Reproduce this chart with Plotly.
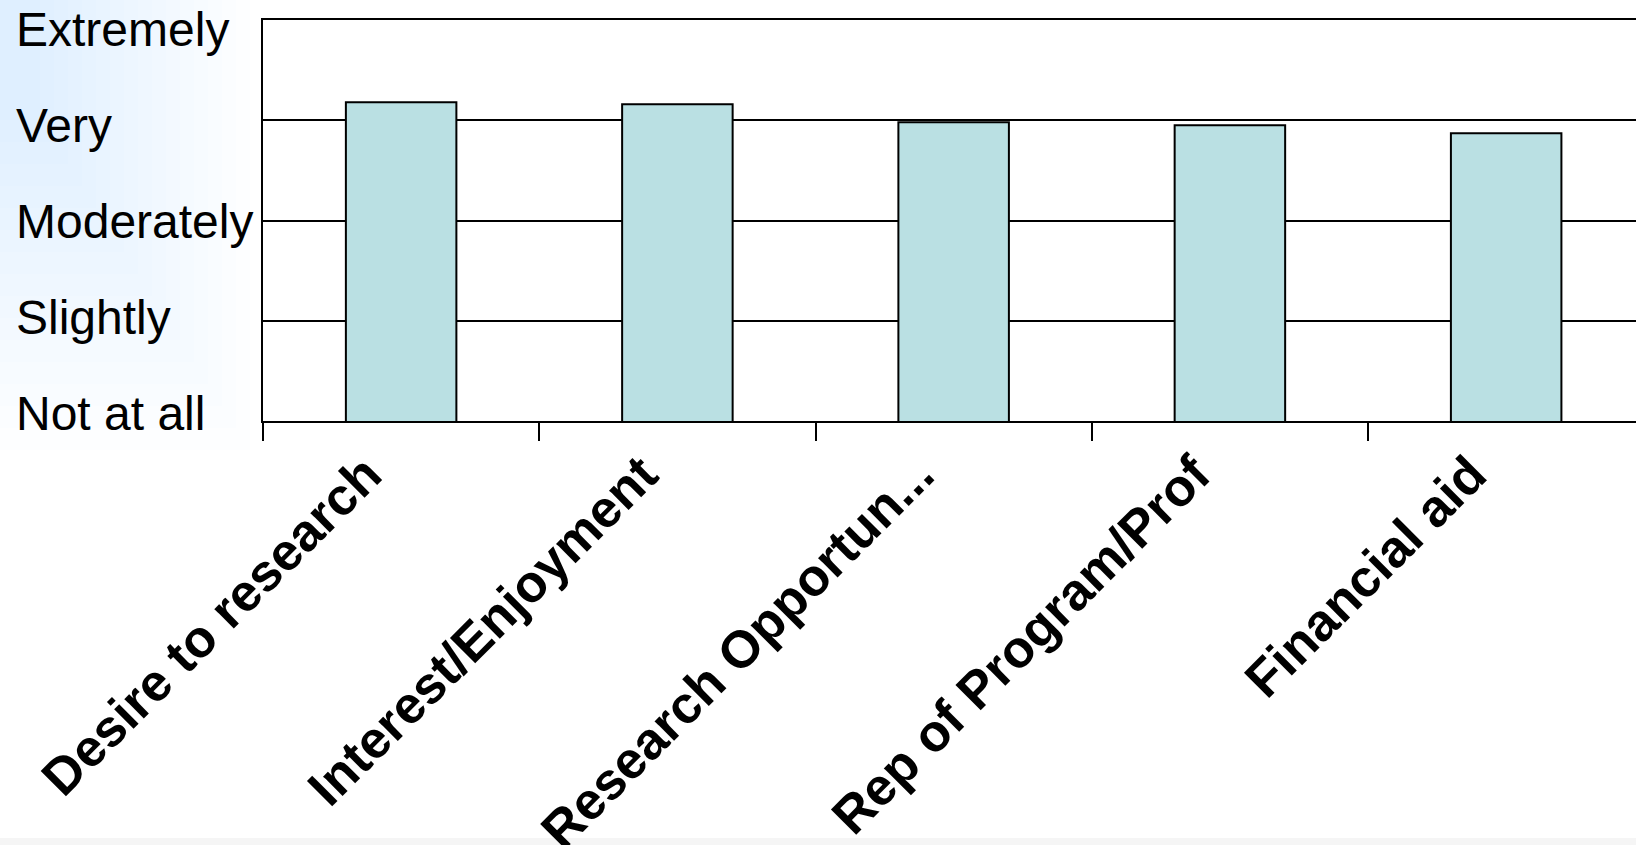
import plotly.graph_objects as go

categories = ["Desire to research", "Interest/Enjoyment", "Research Opportun...",
              "Rep of Program/Prof", "Financial aid"]
values = [4.18, 4.16, 3.98, 3.95, 3.87]
level_values = [5, 4, 3, 2, 1]
level_labels = ["Extremely", "Very", "Moderately", "Slightly", "Not at all"]

W, H = 1636, 845
ML, MT, MB = 263, 20, 424
plot_w = W - ML
plot_h = H - MT - MB

fig = go.Figure()
fig.add_trace(go.Bar(
    x=categories, y=values,
    marker=dict(color="#BAE0E3", line=dict(color="#000000", width=2)),
    width=0.4,
    hoverinfo="skip",
))

def px_to_paper_x(px):
    return (px - ML) / plot_w

def px_to_paper_y(py):
    return (H - MB - py) / plot_h

shapes = []
# soft blue glow on the left side of the slide background
n = 16
for i in range(n):
    shapes.append(dict(
        type="rect", xref="paper", yref="paper", layer="below",
        x0=px_to_paper_x(0), x1=px_to_paper_x(250 - i * 14),
        y0=px_to_paper_y(450 - i * 22), y1=px_to_paper_y(0),
        fillcolor="#9cc6ee", opacity=0.016, line=dict(width=0),
    ))
# light strip at the bottom
shapes.append(dict(
    type="rect", xref="paper", yref="paper", layer="below",
    x0=px_to_paper_x(0), x1=px_to_paper_x(W),
    y0=px_to_paper_y(H), y1=px_to_paper_y(838),
    fillcolor="#f5f5f5", line=dict(width=0),
))

annotations = []
for i, (lv, lab) in enumerate(zip(level_values, level_labels)):
    annotations.append(dict(
        x=px_to_paper_x(14), xref="paper", xanchor="left",
        y=lv, yref="y", yanchor="middle",
        yshift=-(9 - 4.25 * i),
        text=lab, showarrow=False,
        font=dict(family="Liberation Sans, Arial, sans-serif", size=48, color="#000000"),
    ))

fig.update_layout(
    width=W, height=H,
    margin=dict(l=ML, r=0, t=MT, b=MB, pad=0),
    paper_bgcolor="#ffffff",
    plot_bgcolor="#ffffff",
    showlegend=False,
    shapes=shapes,
    annotations=annotations,
    xaxis=dict(
        type="category",
        range=[-0.5, 4.47],
        showline=True, linecolor="#000000", linewidth=2, mirror=True,
        ticks="outside", tickson="boundaries", ticklen=18, tickwidth=2, tickcolor="#000000",
        tickangle=-45,
        ticklabelshift=-35,
        tickfont=dict(family="Liberation Sans, Arial, sans-serif", size=52, color="#000000",
                      weight="bold"),
        showgrid=False, automargin=False,
    ),
    yaxis=dict(
        range=[1, 5],
        tickvals=level_values,
        showticklabels=False,
        showline=True, linecolor="#000000", linewidth=2,
        showgrid=True, gridcolor="#000000", gridwidth=2,
        zeroline=False, ticks="", automargin=False,
    ),
)

fig.write_html("out.html")
